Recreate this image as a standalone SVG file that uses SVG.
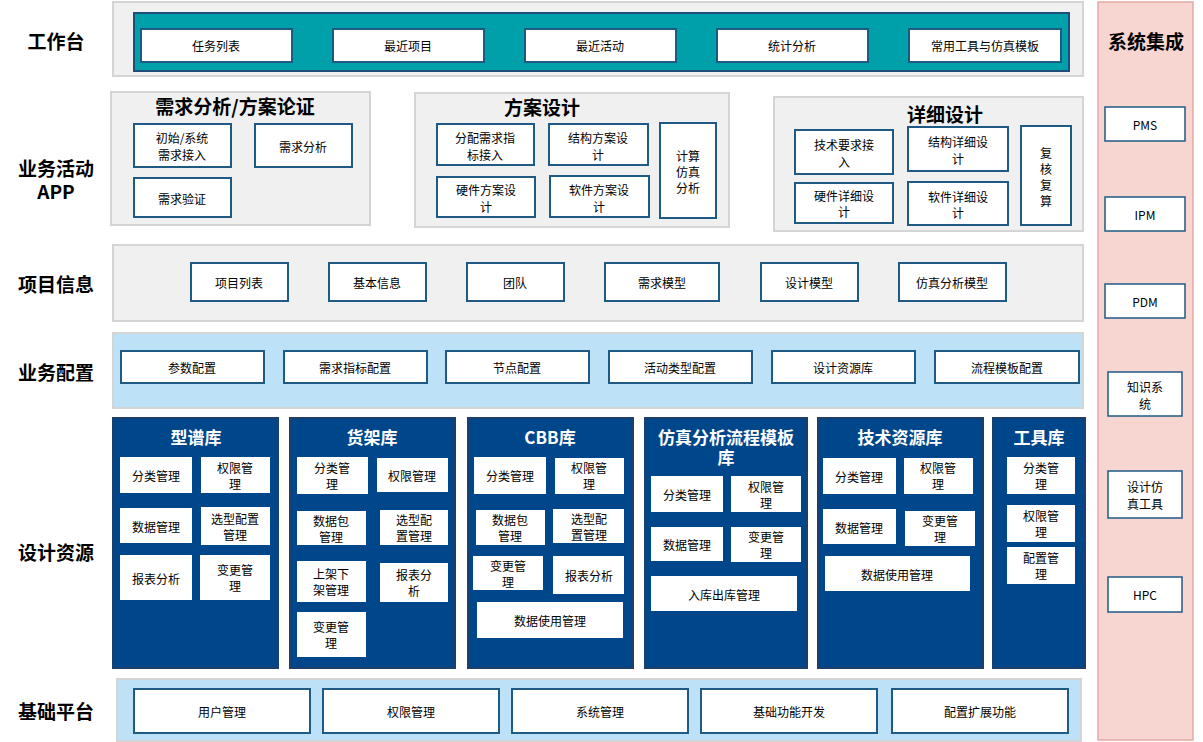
<svg xmlns="http://www.w3.org/2000/svg" width="1203" height="742" viewBox="0 0 1203 742">
<style>
text{font-family:"Microsoft YaHei","Noto Sans CJK SC",sans-serif;text-anchor:middle;dominant-baseline:central}
.lbl{font-size:19px;font-weight:bold;fill:#000}
.gray{fill:#F0F0F0;stroke:#D4D4D4;stroke-width:2}
.band{fill:#BDE1F7;stroke:#D4D4D4;stroke-width:2}
.b{fill:#fff;stroke:#1F5A85;stroke-width:2}
.w{fill:#fff;stroke:none}
.t{font-size:12px;fill:#000}
.navy{fill:#00468B;stroke:#1F3F6B;stroke-width:2}
.ht{font-size:17px;font-weight:bold;fill:#fff}
.gt{font-size:19px;font-weight:bold;fill:#000}
.side{fill:#fff;stroke:#1F5A85;stroke-width:1.5}
</style>
<rect x="1098" y="2" width="95" height="738" fill="#F7D6D2" stroke="#E3A9A5" stroke-width="1.5"/>
<g id="labels">
<text class="lbl" x="56" y="40">工作台</text>
<text class="lbl" x="56" y="167">业务活动</text>
<text class="lbl" x="56" y="190">APP</text>
<text class="lbl" x="56" y="283">项目信息</text>
<text class="lbl" x="56" y="371">业务配置</text>
<text class="lbl" x="56" y="551">设计资源</text>
<text class="lbl" x="56" y="710">基础平台</text>
<text class="lbl" x="1146" y="40">系统集成</text>
</g>
<g id="workbench">
<rect class="gray" x="113" y="2" width="970" height="74"/>
<rect x="134" y="13" width="935" height="58" fill="#00A0AA" stroke="#1F4E79" stroke-width="2"/>
<rect class="b" x="141" y="29" width="151" height="33"/><text class="t" x="216" y="45">任务列表</text>
<rect class="b" x="333" y="29" width="151" height="33"/><text class="t" x="408" y="45">最近项目</text>
<rect class="b" x="525" y="29" width="151" height="33"/><text class="t" x="600" y="45">最近活动</text>
<rect class="b" x="717" y="29" width="151" height="33"/><text class="t" x="792" y="45">统计分析</text>
<rect class="b" x="909" y="29" width="152" height="33"/><text class="t" x="985" y="45">常用工具与仿真模板</text>
</g>
<g id="req">
<rect class="gray" x="111" y="92" width="259" height="133"/>
<text class="gt" x="235" y="105">需求分析/方案论证</text>
<rect class="b" x="134" y="124" width="97" height="43"/><text class="t" x="182" y="137">初始/系统</text><text class="t" x="182" y="154">需求接入</text>
<rect class="b" x="255" y="124" width="97" height="43"/><text class="t" x="303" y="146">需求分析</text>
<rect class="b" x="134" y="178" width="97" height="39"/><text class="t" x="182" y="198">需求验证</text>
</g>
<g id="scheme">
<rect class="gray" x="415" y="93" width="314" height="134"/>
<text class="gt" x="542" y="106">方案设计</text>
<rect class="b" x="437" y="124" width="97" height="41"/><text class="t" x="485" y="137">分配需求指</text><text class="t" x="485" y="154">标接入</text>
<rect class="b" x="549" y="124" width="99" height="41"/><text class="t" x="598" y="137">结构方案设</text><text class="t" x="598" y="154">计</text>
<rect class="b" x="437" y="177" width="98" height="40"/><text class="t" x="486" y="189">硬件方案设</text><text class="t" x="486" y="206">计</text>
<rect class="b" x="550" y="176" width="99" height="41"/><text class="t" x="599" y="189">软件方案设</text><text class="t" x="599" y="206">计</text>
<rect class="b" x="660" y="123" width="56" height="95"/><text class="t" x="688" y="155">计算</text><text class="t" x="688" y="171">仿真</text><text class="t" x="688" y="187">分析</text>
</g>
<g id="detail">
<rect class="gray" x="774" y="97" width="309" height="134"/>
<text class="gt" x="945" y="113">详细设计</text>
<rect class="b" x="795" y="130" width="98" height="44"/><text class="t" x="844" y="144">技术要求接</text><text class="t" x="844" y="161">入</text>
<rect class="b" x="908" y="127" width="100" height="44"/><text class="t" x="958" y="141">结构详细设</text><text class="t" x="958" y="158">计</text>
<rect class="b" x="795" y="183" width="98" height="40"/><text class="t" x="844" y="195">硬件详细设</text><text class="t" x="844" y="211">计</text>
<rect class="b" x="908" y="182" width="100" height="43"/><text class="t" x="958" y="196">软件详细设</text><text class="t" x="958" y="212">计</text>
<rect class="b" x="1021" y="126" width="50" height="99"/><text class="t" x="1046" y="152">复</text><text class="t" x="1046" y="168">核</text><text class="t" x="1046" y="184">复</text><text class="t" x="1046" y="200">算</text>
</g>
<g id="project">
<rect class="gray" x="113" y="245" width="970" height="76"/>
<rect class="b" x="191" y="263" width="97" height="38"/><text class="t" x="239" y="282">项目列表</text>
<rect class="b" x="329" y="263" width="97" height="38"/><text class="t" x="377" y="282">基本信息</text>
<rect class="b" x="467" y="263" width="97" height="38"/><text class="t" x="515" y="282">团队</text>
<rect class="b" x="605" y="263" width="114" height="38"/><text class="t" x="662" y="282">需求模型</text>
<rect class="b" x="761" y="263" width="97" height="38"/><text class="t" x="809" y="282">设计模型</text>
<rect class="b" x="899" y="263" width="107" height="38"/><text class="t" x="952" y="282">仿真分析模型</text>
</g>
<g id="config">
<rect class="band" x="113" y="333" width="970" height="75"/>
<rect class="b" x="121" y="351" width="143" height="32"/><text class="t" x="192" y="367">参数配置</text>
<rect class="b" x="284" y="351" width="143" height="32"/><text class="t" x="355" y="367">需求指标配置</text>
<rect class="b" x="446" y="351" width="143" height="32"/><text class="t" x="517" y="367">节点配置</text>
<rect class="b" x="609" y="351" width="143" height="32"/><text class="t" x="680" y="367">活动类型配置</text>
<rect class="b" x="772" y="351" width="143" height="32"/><text class="t" x="843" y="367">设计资源库</text>
<rect class="b" x="935" y="351" width="144" height="32"/><text class="t" x="1007" y="367">流程模板配置</text>
</g>
<g id="lib1">
<rect class="navy" x="113" y="418" width="165" height="250"/><text class="ht" x="196" y="436">型谱库</text>
<rect class="w" x="120" y="457" width="72" height="36"/><text class="t" x="156" y="475">分类管理</text>
<rect class="w" x="201" y="457" width="69" height="36"/><text class="t" x="235" y="467">权限管</text><text class="t" x="235" y="483">理</text>
<rect class="w" x="120" y="508" width="72" height="35"/><text class="t" x="156" y="526">数据管理</text>
<rect class="w" x="201" y="507" width="69" height="38"/><text class="t" x="235" y="518">选型配置</text><text class="t" x="235" y="534">管理</text>
<rect class="w" x="120" y="555" width="72" height="45"/><text class="t" x="156" y="578">报表分析</text>
<rect class="w" x="200" y="555" width="70" height="45"/><text class="t" x="235" y="569">变更管</text><text class="t" x="235" y="585">理</text>
</g>
<g id="lib2">
<rect class="navy" x="290" y="418" width="165" height="250"/><text class="ht" x="372" y="436">货架库</text>
<rect class="w" x="297" y="457" width="71" height="37"/><text class="t" x="332" y="467">分类管</text><text class="t" x="332" y="483">理</text>
<rect class="w" x="377" y="458" width="71" height="34"/><text class="t" x="412" y="475">权限管理</text>
<rect class="w" x="297" y="511" width="69" height="34"/><text class="t" x="331" y="520">数据包</text><text class="t" x="331" y="536">管理</text>
<rect class="w" x="380" y="510" width="68" height="35"/><text class="t" x="414" y="519">选型配</text><text class="t" x="414" y="535">置管理</text>
<rect class="w" x="297" y="561" width="69" height="41"/><text class="t" x="331" y="573">上架下</text><text class="t" x="331" y="589">架管理</text>
<rect class="w" x="380" y="563" width="68" height="39"/><text class="t" x="414" y="574">报表分</text><text class="t" x="414" y="590">析</text>
<rect class="w" x="297" y="612" width="69" height="45"/><text class="t" x="331" y="626">变更管</text><text class="t" x="331" y="642">理</text>
</g>
<g id="lib3">
<rect class="navy" x="468" y="418" width="165" height="250"/><text class="ht" x="550" y="436">CBB库</text>
<rect class="w" x="474" y="457" width="72" height="37"/><text class="t" x="510" y="475">分类管理</text>
<rect class="w" x="555" y="458" width="69" height="36"/><text class="t" x="589" y="467">权限管</text><text class="t" x="589" y="483">理</text>
<rect class="w" x="476" y="510" width="69" height="35"/><text class="t" x="510" y="519">数据包</text><text class="t" x="510" y="535">管理</text>
<rect class="w" x="553" y="509" width="71" height="34"/><text class="t" x="589" y="518">选型配</text><text class="t" x="589" y="534">置管理</text>
<rect class="w" x="473" y="556" width="70" height="34"/><text class="t" x="508" y="565">变更管</text><text class="t" x="508" y="581">理</text>
<rect class="w" x="553" y="556" width="71" height="38"/><text class="t" x="589" y="575">报表分析</text>
<rect class="w" x="477" y="602" width="146" height="36"/><text class="t" x="550" y="620">数据使用管理</text>
</g>
<g id="lib4">
<rect class="navy" x="645" y="418" width="162" height="250"/><text class="ht" x="726" y="436">仿真分析流程模板</text><text class="ht" x="726" y="456">库</text>
<rect class="w" x="651" y="476" width="72" height="36"/><text class="t" x="687" y="494">分类管理</text>
<rect class="w" x="731" y="476" width="70" height="36"/><text class="t" x="766" y="486">权限管</text><text class="t" x="766" y="502">理</text>
<rect class="w" x="651" y="527" width="72" height="34"/><text class="t" x="687" y="544">数据管理</text>
<rect class="w" x="731" y="527" width="70" height="35"/><text class="t" x="766" y="536">变更管</text><text class="t" x="766" y="552">理</text>
<rect class="w" x="651" y="576" width="146" height="35"/><text class="t" x="724" y="594">入库出库管理</text>
</g>
<g id="lib5">
<rect class="navy" x="818" y="418" width="165" height="250"/><text class="ht" x="900" y="436">技术资源库</text>
<rect class="w" x="823" y="458" width="73" height="36"/><text class="t" x="859" y="476">分类管理</text>
<rect class="w" x="904" y="458" width="69" height="36"/><text class="t" x="938" y="467">权限管</text><text class="t" x="938" y="483">理</text>
<rect class="w" x="823" y="509" width="73" height="35"/><text class="t" x="859" y="527">数据管理</text>
<rect class="w" x="905" y="511" width="70" height="35"/><text class="t" x="940" y="520">变更管</text><text class="t" x="940" y="536">理</text>
<rect class="w" x="825" y="556" width="145" height="35"/><text class="t" x="897" y="574">数据使用管理</text>
</g>
<g id="lib6">
<rect class="navy" x="993" y="418" width="92" height="250"/><text class="ht" x="1039" y="436">工具库</text>
<rect class="w" x="1007" y="457" width="68" height="37"/><text class="t" x="1041" y="467">分类管</text><text class="t" x="1041" y="483">理</text>
<rect class="w" x="1007" y="505" width="68" height="37"/><text class="t" x="1041" y="515">权限管</text><text class="t" x="1041" y="531">理</text>
<rect class="w" x="1007" y="547" width="68" height="37"/><text class="t" x="1041" y="557">配置管</text><text class="t" x="1041" y="573">理</text>
</g>
<g id="base">
<rect class="band" x="117" y="679" width="964" height="62"/>
<rect class="b" x="134" y="689" width="176" height="44"/><text class="t" x="222" y="711">用户管理</text>
<rect class="b" x="323" y="689" width="176" height="44"/><text class="t" x="411" y="711">权限管理</text>
<rect class="b" x="512" y="689" width="176" height="44"/><text class="t" x="600" y="711">系统管理</text>
<rect class="b" x="701" y="689" width="176" height="44"/><text class="t" x="789" y="711">基础功能开发</text>
<rect class="b" x="892" y="689" width="176" height="44"/><text class="t" x="980" y="711">配置扩展功能</text>
</g>
<g id="integration">
<rect class="side" x="1105" y="107" width="80" height="34"/><text class="t" x="1145" y="124">PMS</text>
<rect class="side" x="1105" y="197" width="80" height="34"/><text class="t" x="1145" y="214">IPM</text>
<rect class="side" x="1105" y="284" width="80" height="34"/><text class="t" x="1145" y="301">PDM</text>
<rect class="side" x="1108" y="372" width="74" height="44"/><text class="t" x="1145" y="386">知识系</text><text class="t" x="1145" y="403">统</text>
<rect class="side" x="1108" y="471" width="74" height="47"/><text class="t" x="1145" y="486">设计仿</text><text class="t" x="1145" y="503">真工具</text>
<rect class="side" x="1108" y="577" width="74" height="35"/><text class="t" x="1145" y="594">HPC</text>
</g>
</svg>
